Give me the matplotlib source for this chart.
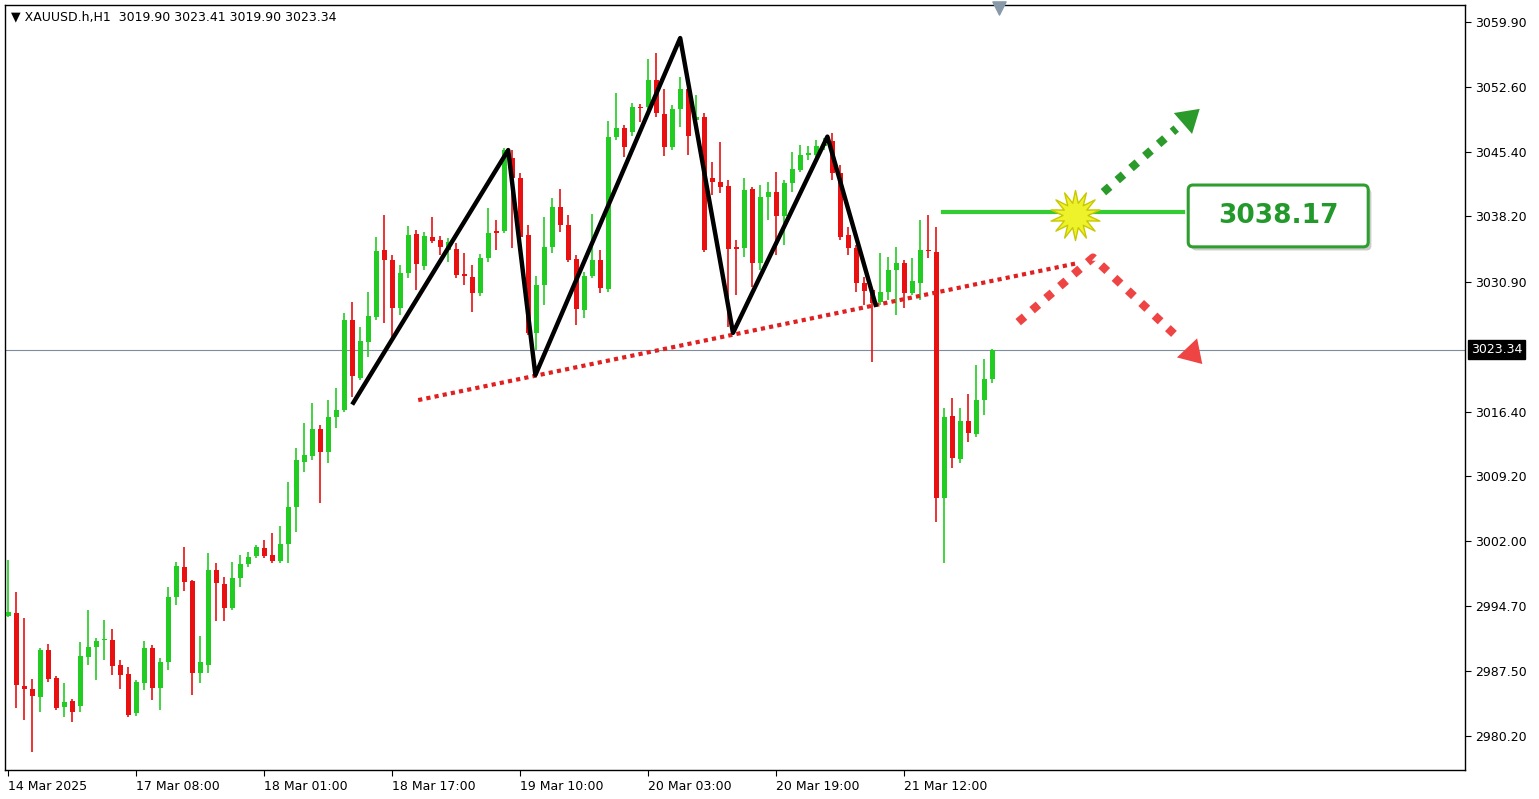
import numpy as np
import matplotlib
matplotlib.use("Agg")
import matplotlib.pyplot as plt
from matplotlib.patches import FancyBboxPatch

# ---- hourly candles XAUUSD H1 (open, high, low, close) ----
opens = [2993.6, 2993.9, 2985.8, 2985.5, 2984.6, 2989.8, 2986.7, 2983.4, 2984.1, 2983.6,
         2989.0, 2990.1, 2990.9, 2990.9, 2988.1, 2987.1, 2982.8, 2986.1, 2990.0, 2985.6,
         2988.5, 2995.7, 2999.1, 2997.5, 2987.2, 2988.1, 2998.7, 2997.2, 2994.5, 2997.8,
         2999.4, 3000.3, 3001.2, 3000.4, 2999.7, 3001.6, 3005.8, 3010.8, 3011.5, 3014.5,
         3011.9, 3015.8, 3016.6, 3026.6, 3020.2, 3024.2, 3027.0, 3034.4, 3033.3, 3028.0,
         3031.9, 3036.2, 3032.7, 3035.9, 3035.6, 3034.4, 3034.6, 3031.8, 3031.4, 3029.6,
         3033.6, 3036.5, 3036.6, 3044.7, 3042.5, 3036.1, 3025.2, 3030.5, 3034.8, 3039.2,
         3037.2, 3033.4, 3027.8, 3031.6, 3033.3, 3030.1, 3047.1, 3048.1, 3047.6, 3050.4,
         3050.4, 3053.4, 3049.6, 3045.9, 3050.2, 3052.4, 3049.0, 3049.3, 3042.5, 3042.0,
         3041.6, 3034.7, 3034.7, 3041.3, 3033.0, 3040.4, 3040.9, 3038.2, 3041.9, 3043.4,
         3045.1, 3045.1, 3046.1, 3046.6, 3043.0, 3036.1, 3034.7, 3030.8, 3030.0, 3028.6,
         3029.8, 3032.2, 3033.0, 3029.6, 3030.8, 3034.4, 3034.2, 3006.8, 3015.9, 3011.1,
         3015.4, 3013.9, 3017.7, 3020.0]
highs = [2999.8, 2996.3, 2993.4, 2986.6, 2990.0, 2990.5, 2986.9, 2986.1, 2984.3, 2990.7,
         2994.3, 2991.1, 2993.2, 2992.1, 2988.7, 2987.9, 2986.5, 2990.8, 2990.4, 2988.9,
         2996.8, 2999.6, 3001.3, 2997.6, 2991.4, 3000.6, 2999.5, 2998.0, 2999.6, 3000.4,
         3000.7, 3001.5, 3002.1, 3002.9, 3003.6, 3008.6, 3012.4, 3015.1, 3017.4, 3014.9,
         3017.7, 3019.0, 3027.4, 3028.6, 3025.9, 3029.8, 3035.9, 3038.4, 3033.9, 3032.8,
         3037.1, 3036.7, 3036.5, 3038.1, 3036.0, 3035.8, 3035.2, 3034.1, 3032.8, 3034.0,
         3039.1, 3037.8, 3045.8, 3045.6, 3043.0, 3037.2, 3031.6, 3038.1, 3040.3, 3041.3,
         3038.4, 3033.9, 3032.0, 3038.5, 3034.4, 3048.8, 3052.0, 3048.4, 3050.9, 3050.7,
         3055.8, 3056.4, 3052.4, 3050.6, 3053.8, 3052.9, 3051.8, 3049.7, 3044.3, 3046.5,
         3042.3, 3035.6, 3042.5, 3041.5, 3041.7, 3042.0, 3043.2, 3042.3, 3045.4, 3046.2,
         3046.0, 3046.7, 3047.0, 3047.5, 3043.9, 3037.0, 3035.0, 3031.4, 3030.2, 3034.1,
         3033.7, 3034.8, 3033.3, 3033.6, 3037.8, 3038.4, 3037.0, 3016.8, 3017.9, 3016.8,
         3018.4, 3021.6, 3022.3, 3023.4]
lows = [2993.5, 2983.3, 2982.0, 2978.4, 2982.9, 2986.2, 2983.1, 2982.3, 2981.8, 2982.9,
        2988.1, 2986.5, 2988.7, 2987.0, 2985.5, 2982.3, 2982.5, 2985.4, 2984.2, 2983.1,
        2987.6, 2994.8, 2996.4, 2984.8, 2986.1, 2987.2, 2993.0, 2993.0, 2994.3, 2996.8,
        2999.1, 3000.1, 3000.1, 2999.5, 2999.5, 2999.5, 3003.0, 3009.7, 3011.0, 3006.2,
        3010.7, 3014.6, 3016.4, 3018.0, 3019.9, 3022.5, 3026.6, 3026.3, 3024.7, 3027.2,
        3031.3, 3030.0, 3032.2, 3035.2, 3033.9, 3033.1, 3031.3, 3030.5, 3027.5, 3029.3,
        3033.1, 3034.5, 3036.4, 3034.7, 3035.6, 3025.0, 3023.3, 3028.3, 3034.1, 3036.5,
        3033.1, 3026.1, 3026.9, 3031.3, 3029.6, 3029.8, 3046.7, 3044.8, 3047.2, 3048.7,
        3050.1, 3049.3, 3044.9, 3045.6, 3048.2, 3045.1, 3048.4, 3034.2, 3040.6, 3040.8,
        3025.9, 3029.4, 3033.7, 3030.3, 3032.2, 3037.8, 3033.9, 3035.0, 3040.9, 3043.2,
        3044.5, 3044.8, 3045.6, 3042.3, 3035.6, 3033.9, 3029.8, 3028.3, 3021.9, 3028.3,
        3028.9, 3027.2, 3028.0, 3029.4, 3028.9, 3033.6, 3004.1, 2999.5, 3010.1, 3010.7,
        3013.0, 3013.6, 3016.0, 3019.6]
closes = [2994.0, 2985.9, 2985.5, 2984.7, 2989.8, 2986.6, 2983.3, 2984.0, 2982.9, 2989.1,
          2990.1, 2990.8, 2990.9, 2988.0, 2987.0, 2982.6, 2986.2, 2990.0, 2985.6, 2988.5,
          2995.7, 2999.2, 2997.4, 2987.2, 2988.5, 2998.7, 2997.3, 2994.5, 2997.8, 2999.4,
          3000.2, 3001.3, 3000.3, 2999.7, 3001.6, 3005.8, 3011.0, 3011.6, 3014.5, 3011.9,
          3015.8, 3016.6, 3026.6, 3020.4, 3024.3, 3027.1, 3034.3, 3033.3, 3028.0, 3031.9,
          3036.1, 3032.9, 3036.0, 3035.4, 3034.8, 3035.3, 3031.7, 3031.5, 3029.6, 3033.6,
          3036.3, 3036.4, 3045.6, 3042.5, 3035.9, 3025.2, 3030.5, 3034.8, 3039.2, 3037.2,
          3033.3, 3027.9, 3031.6, 3033.3, 3030.2, 3047.1, 3048.1, 3045.9, 3050.4, 3050.3,
          3053.4, 3049.7, 3045.9, 3050.2, 3052.4, 3047.2, 3049.3, 3034.5, 3042.0, 3041.5,
          3034.6, 3034.6, 3041.1, 3033.0, 3040.4, 3040.9, 3038.2, 3041.9, 3043.5, 3045.1,
          3045.2, 3046.1, 3046.3, 3043.0, 3035.9, 3034.7, 3030.8, 3029.9, 3028.5, 3029.8,
          3032.2, 3033.0, 3029.6, 3031.0, 3034.4, 3034.3, 3006.8, 3015.8, 3011.2, 3015.4,
          3014.0, 3017.7, 3020.0, 3023.34]

time_labels = ["14 Mar 2025", "17 Mar 08:00", "18 Mar 01:00", "18 Mar 17:00",
               "19 Mar 10:00", "20 Mar 03:00", "20 Mar 19:00", "21 Mar 12:00"]
time_label_bars = [0, 16, 32, 48, 64, 80, 96, 112]
price_ticks = [3059.90, 3052.60, 3045.40, 3038.20, 3030.90, 3016.40,
               3009.20, 3002.00, 2994.70, 2987.50, 2980.20]
last_price = 3023.34
level = 3038.17

# pattern drawing (bar index, price)
zig_x = [43.0, 62.5, 65.9, 84.0, 90.6, 102.4, 108.5]
zig_y = [3017.2, 3045.6, 3020.5, 3058.1, 3025.2, 3047.1, 3028.1]
neck_x = [51.25, 133.75]
neck_y = [3017.7, 3033.0]

GREEN = "#22cc22"
RED = "#e81010"

fig = plt.figure(figsize=(15.39, 7.99), dpi=100)
ax = fig.add_axes([5 / 1539, 29 / 799, 1460 / 1539, 765 / 799])

n = len(opens)
idx = np.arange(n)
for i in idx:
    o, h, l, c = opens[i], highs[i], lows[i], closes[i]
    col = GREEN if c >= o else RED
    ax.vlines(i, l, h, color=col, lw=1.2, zorder=2)
    bot, top = min(o, c), max(o, c)
    ax.bar(i, max(top - bot, 0.15), bottom=bot, width=0.62, color=col, lw=0, zorder=3)

ax.axhline(last_price, color="#7f8c99", lw=0.8, zorder=1)

ax.plot(zig_x, zig_y, color="black", lw=3.2, solid_capstyle="butt", zorder=5)
ax.plot(neck_x, neck_y, color="#e02020", lw=3, linestyle=(0, (1, 1)), zorder=4)

# level line, box, starburst
ax.plot([116.9, 146.9], [38.7 + 3000, 38.7 + 3000], color="#33cc33", lw=3, zorder=4)
box = FancyBboxPatch((147.5, 3034.8), 22.5, 6.9, boxstyle="round,pad=0,rounding_size=0.6",
                     mutation_aspect=0.9, fc="white", ec="#2e9e2e", lw=2.2, zorder=6)
shadow = FancyBboxPatch((147.9, 3034.4), 22.5, 6.9, boxstyle="round,pad=0,rounding_size=0.6",
                        mutation_aspect=0.9, fc="#cccccc", ec="none", zorder=5)
ax.add_patch(shadow)
ax.add_patch(box)
ax.text(158.75, 3038.25, f"{level:.2f}", color="#22992a", fontsize=19, fontweight="bold",
        ha="center", va="center", zorder=7)
ax.scatter([133.4], [3038.3], marker=(14, 1, 0), s=1300, c="#eef22a", edgecolors="#c8c800",
           lw=1, zorder=8)

# green scenario arrow
ax.plot([136.9, 146.0], [3040.9, 3048.0], color="#2a9a2a", lw=6, linestyle=(0, (1, 1.2)), zorder=4)
ax.annotate("", xy=(149.2, 3050.4), xytext=(145.6, 3047.6),
            arrowprops=dict(arrowstyle="-|>,head_length=1.6,head_width=1.0", color="#2a9a2a", lw=0),
            zorder=4)
# red scenario arrow
ax.plot([126.25, 135.6, 146.3], [3026.4, 3033.6, 3024.6], color="#ee4444", lw=6,
        linestyle=(0, (1, 1.2)), zorder=4)
ax.annotate("", xy=(149.5, 3021.5), xytext=(146.0, 3024.8),
            arrowprops=dict(arrowstyle="-|>,head_length=1.6,head_width=1.0", color="#ee4444", lw=0),
            zorder=4)

ax.set_xlim(-0.4, 182.1)
ax.set_ylim(2976.42, 3061.79)

ax.yaxis.tick_right()
ax.set_yticks(price_ticks)
ax.set_yticklabels([f"{p:.2f}" for p in price_ticks], fontsize=9)
ax.set_xticks(time_label_bars)
ax.set_xticklabels(time_labels, fontsize=9, ha="left")
ax.tick_params(axis="both", length=4, width=0.8, color="black", pad=3)
for s in ax.spines.values():
    s.set_linewidth(1)

ax.text(last_price and 1.004, last_price, f"{last_price:.2f}", transform=ax.get_yaxis_transform(),
        color="white", fontsize=9, va="center", ha="left",
        bbox=dict(boxstyle="square,pad=0.25", fc="black", ec="black"))

ax.text(0.004, 0.985, "▼ XAUUSD.h,H1  3019.90 3023.41 3019.90 3023.34", transform=ax.transAxes,
        fontsize=9, va="center", ha="left")
ax.scatter([123.9], [3061.5], marker="v", s=90, c="#8899aa", zorder=9, clip_on=False)

fig.savefig("out.png", dpi=100, facecolor="white")
